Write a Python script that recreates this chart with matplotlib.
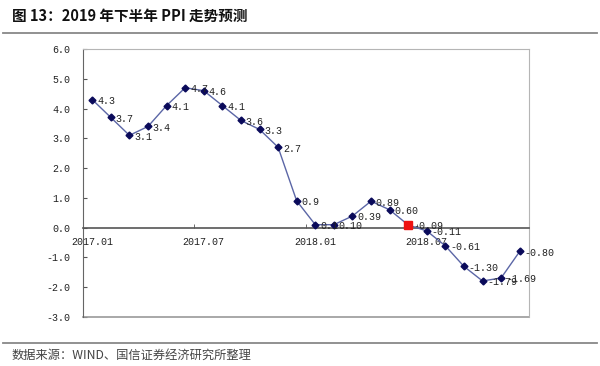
import matplotlib
matplotlib.use("Agg")
import matplotlib.pyplot as plt
from matplotlib.lines import Line2D

# PPI year-on-year, monthly, 2017.01 - 2018.12 as labelled in the chart
months = ["2017.01", "2017.02", "2017.03", "2017.04", "2017.05", "2017.06",
          "2017.07", "2017.08", "2017.09", "2017.10", "2017.11", "2017.12",
          "2018.01", "2018.02", "2018.03", "2018.04", "2018.05", "2018.06",
          "2018.07", "2018.08", "2018.09", "2018.10", "2018.11", "2018.12"]
ppi = [4.3, 3.7, 3.1, 3.4, 4.1, 4.7, 4.6, 4.1, 3.6, 3.3, 2.7, 0.9,
       0.1, 0.10, 0.39, 0.89, 0.60, 0.09, -0.11, -0.61, -1.30, -1.79, -1.69, -0.80]
point_labels = ["4.3", "3.7", "3.1", "3.4", "4.1", "4.7", "4.6", "4.1", "3.6", "3.3",
                "2.7", "0.9", "0.1", "0.10", "0.39", "0.89", "0.60", "-0.09",
                "-0.11", "-0.61", "-1.30", "-1.79", "-1.69", "-0.80"]
highlight = 17  # red square point
tick_every = 6
yticks = [-3.0, -2.0, -1.0, 0.0, 1.0, 2.0, 3.0, 4.0, 5.0, 6.0]

num_font = "Liberation Mono"
plt.rcParams['font.family'] = ['Noto Sans CJK SC', 'DejaVu Sans']

fig = plt.figure(figsize=(6.0, 3.66), dpi=100)
ax = fig.add_axes([0.1383, 0.1339, 0.7433, 0.7322])

x = list(range(len(ppi)))
ax.plot(x, ppi, color="#5b66a6", lw=1.0, marker="D", markersize=3.5,
        markerfacecolor="#0a0a5a", markeredgecolor="#0a0a5a", zorder=3)
ax.plot([highlight], [ppi[highlight]], marker="s", markersize=6, color="#ee1111",
        linestyle="none", zorder=4)

for xi, yi, lab in zip(x, ppi, point_labels):
    ax.annotate(lab, (xi, yi), xytext=(3.5, -1), textcoords="offset points",
                ha="left", va="center", fontsize=7.2, family=num_font, color="#222222")

ax.set_xlim(-0.5, len(ppi) - 0.5)
ax.set_ylim(-3.0, 6.0)
ax.set_yticks(yticks)
ax.set_yticklabels([f"{v:.1f}" for v in yticks], family=num_font, fontsize=7.2)
ax.tick_params(axis="y", direction="in", length=3, pad=9, color="#555555",
               labelcolor="#222222")

# x axis sits on the zero line
ax.spines["bottom"].set_position(("data", 0))
ax.spines["bottom"].set_color("#555555")
ax.spines["bottom"].set_linewidth(1.2)
ax.set_xticks(x[::tick_every])
ax.set_xticklabels(months[::tick_every], family=num_font, fontsize=7.2)
ax.set_xticks([i - 0.5 for i in x[::tick_every]], minor=True)
ax.tick_params(axis="x", which="major", length=0, pad=7, labelcolor="#222222")
ax.tick_params(axis="x", which="minor", direction="in", length=3, color="#555555")

ax.spines["left"].set_color("#666666")
ax.spines["top"].set_color("#b5b5b5")
ax.spines["right"].set_color("#b5b5b5")
ax.axhline(-3.0, color="#9a9a9a", lw=1.2, clip_on=False)

# title, rules and source
fig.text(0.02, 0.957, "图 13：2019 年下半年 PPI 走势预测", fontsize=10.5,
         fontweight="bold", ha="left", va="center", color="#111111")
fig.add_artist(Line2D([0.005, 0.995], [0.909, 0.909], color="#888888", lw=1.3))
fig.add_artist(Line2D([0.005, 0.995], [0.063, 0.063], color="#888888", lw=1.3))
fig.text(0.02, 0.03, "数据来源：WIND、国信证券经济研究所整理", fontsize=8.8,
         ha="left", va="center", color="#444444")

fig.savefig("out.png", dpi=100)
